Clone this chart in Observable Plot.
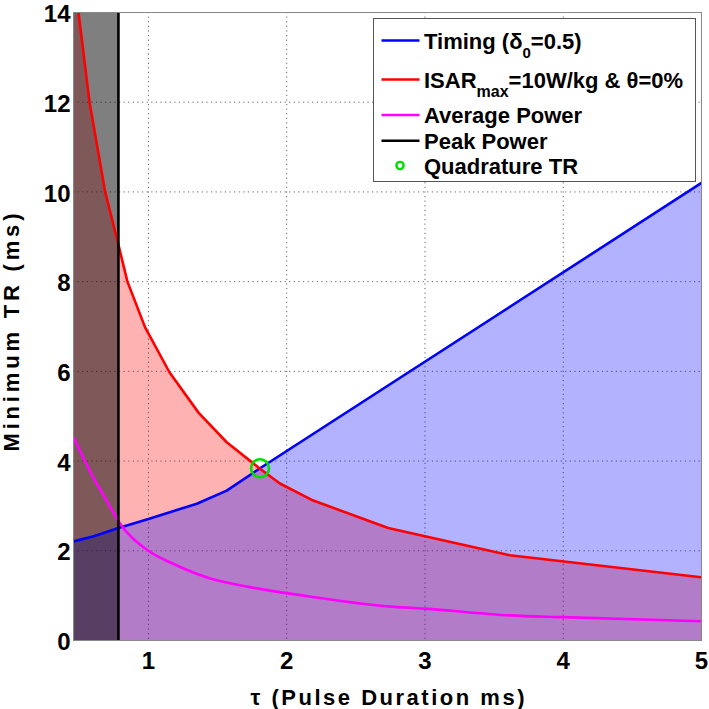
<!DOCTYPE html>
<html>
<head>
<meta charset="utf-8">
<script src="https://cdn.jsdelivr.net/npm/d3@7"></script>
<script src="https://cdn.jsdelivr.net/npm/@observablehq/plot@0.6"></script>
<style>
  html, body { margin: 0; padding: 0; background: #fff; }
  #wrap { position: relative; width: 709px; height: 709px; }
  #legend { position: absolute; left: 0; top: 0; pointer-events: none; }
</style>
</head>
<body>
<div id="wrap"></div>
<script>
// ---- data ----
const xDomain = [0.458, 5];
const yDomain = [0, 14];
const xTicks = [1, 2, 3, 4, 5];
const yTicks = [0, 2, 4, 6, 8, 10, 12, 14];
const gridXTicks = [1, 2, 3, 4];
const gridYTicks = [2, 4, 6, 8, 10, 12];

// Timing (delta0 = 0.5)
const timingTau = [0.458, 0.6, 0.783, 1.0, 1.35, 1.566, 1.807, 5.0];
const timingTR  = [2.21, 2.32, 2.51, 2.71, 3.05, 3.34, 3.84, 10.2];

// ISAR max = 10 W/kg & theta = 0%
const isarTau = [0.458, 0.494, 0.574, 0.687, 0.783, 0.848, 0.976, 1.152, 1.362, 1.566, 1.807, 1.951, 2.192, 2.734, 3.614, 5.0];
const isarTR  = [15.1, 14.0, 12.0, 10.0, 8.82, 8.0, 6.98, 5.98, 5.08, 4.42, 3.83, 3.5, 3.12, 2.51, 1.9, 1.41];

// Average power
const avgTau = [0.458, 0.6, 0.697, 0.783, 1.0, 1.179, 1.42, 1.664, 1.904, 2.19, 2.734, 3.0, 3.614, 4.0, 5.0];
const avgTR  = [4.53, 3.64, 3.12, 2.66, 2.0, 1.71, 1.41, 1.23, 1.10, 0.97, 0.76, 0.71, 0.56, 0.52, 0.43];

// Peak power limit
const peakTau = [0.783];

// Quadrature TR
const quadTau = [1.807];
const quadTR  = [3.84];

const legendLabels = ["Timing", "ISAR", "Average Power", "Peak Power", "Quadrature TR"];

// ---- tables ----
const timing = timingTau.map((x, i) => ({x, y: timingTR[i]}));
const isar = isarTau.map((x, i) => ({x, y: isarTR[i]}));
const avg = avgTau.map((x, i) => ({x, y: avgTR[i]}));
const quad = quadTau.map((x, i) => ({x, y: quadTR[i]}));

const BLUE = "#0000ff", RED = "#ff0000", MAG = "#ff00ff", GREEN = "#00dd00";

const chart = Plot.plot({
  width: 709,
  height: 709,
  marginLeft: 73,
  marginRight: 8,
  marginTop: 12,
  marginBottom: 69,
  style: {fontFamily: "'Liberation Sans', Arial, sans-serif", fontWeight: "bold", fontSize: "24px", color: "#000", background: "#fff"},
  x: {domain: xDomain, ticks: xTicks, tickFormat: d3.format("d"), tickSize: 0, tickPadding: 11,
      label: "τ (Pulse Duration ms)", labelAnchor: "center", labelArrow: "none", labelOffset: 64},
  y: {domain: yDomain, ticks: yTicks, tickFormat: d3.format("d"), tickSize: 0, tickPadding: 3,
      label: "Minimum TR (ms)", labelAnchor: "center", labelArrow: "none", labelOffset: 70},
  marks: [
    Plot.gridX(gridXTicks, {stroke: "#333", strokeOpacity: 0.75, strokeDasharray: "1.2,3.4", strokeWidth: 1}),
    Plot.gridY(gridYTicks, {stroke: "#333", strokeOpacity: 0.75, strokeDasharray: "1.2,3.4", strokeWidth: 1}),
    Plot.areaY(isar, {x: "x", y: "y", fill: RED, fillOpacity: 0.3, clip: true}),
    Plot.areaY(timing, {x: "x", y: "y", fill: BLUE, fillOpacity: 0.3, clip: true}),
    Plot.rect(peakTau, {x1: () => xDomain[0], x2: d => d, y1: () => yDomain[0], y2: () => yDomain[1], fill: "#000", fillOpacity: 0.5}),
    Plot.line(timing, {x: "x", y: "y", stroke: BLUE, strokeWidth: 2.6, clip: true}),
    Plot.line(isar, {x: "x", y: "y", stroke: RED, strokeWidth: 2.6, clip: true}),
    Plot.line(avg, {x: "x", y: "y", stroke: MAG, strokeWidth: 2.6, curve: "monotone-x", clip: true}),
    Plot.ruleX(peakTau, {stroke: "#000", strokeWidth: 2.6}),
    Plot.dot(quad, {x: "x", y: "y", r: 9, stroke: GREEN, strokeWidth: 2.6, fill: "none"}),
    Plot.frame({stroke: "#888", strokeWidth: 1})
  ]
});

document.getElementById("wrap").appendChild(chart);

// axis labels: reference font size and wider letter spacing
const svgSel = d3.select(chart);
svgSel.selectAll('g[aria-label="x-axis label"] text')
  .attr("font-size", 22).attr("textLength", 274).attr("lengthAdjust", "spacing");
const yLab = svgSel.selectAll('g[aria-label="y-axis label"]');
yLab.attr("transform", (yLab.attr("transform") || "") + " translate(0,6)");
yLab.selectAll("text").attr("font-size", 22).attr("textLength", 238).attr("lengthAdjust", "spacing");
// y tick labels sit slightly below their ticks in the reference
const yTickLab = svgSel.selectAll('g[aria-label="y-axis tick label"]');
yTickLab.attr("transform", (yTickLab.attr("transform") || "") + " translate(0,2)");

// ---- legend (inside plot area, upper right) ----
const lg = d3.select("#wrap").append("svg")
  .attr("id", "legend")
  .attr("width", 709).attr("height", 709)
  .style("font-family", "'Liberation Sans', Arial, sans-serif")
  .style("font-weight", "bold");

lg.append("rect").attr("x", 373.5).attr("y", 18.5).attr("width", 322).attr("height", 163)
  .attr("fill", "#fff").attr("stroke", "#555").attr("stroke-width", 1);

const rows = [
  {y: 40.5, kind: "line", color: BLUE},
  {y: 79.5, kind: "line", color: RED},
  {y: 115, kind: "line", color: MAG},
  {y: 140.7, kind: "line", color: "#000"},
  {y: 165.5, kind: "dot", color: GREEN}
];
rows.forEach((r, i) => {
  if (r.kind === "line") {
    lg.append("line").attr("x1", 381.5).attr("x2", 419.5).attr("y1", r.y).attr("y2", r.y)
      .attr("stroke", r.color).attr("stroke-width", 2.6);
  } else {
    lg.append("circle").attr("cx", 400).attr("cy", r.y).attr("r", 3.6)
      .attr("fill", "none").attr("stroke", r.color).attr("stroke-width", 2.4);
  }
  const t = lg.append("text").attr("x", 424).attr("y", r.y + 8).attr("font-size", 22).attr("fill", "#000");
  if (i === 0) {
    t.append("tspan").text("Timing (δ");
    t.append("tspan").attr("font-size", 15).attr("dy", 9).text("0");
    t.append("tspan").attr("dy", -9).text("=0.5)");
  } else if (i === 1) {
    t.append("tspan").text("ISAR");
    t.append("tspan").attr("font-size", 16).attr("dy", 9).text("max");
    t.append("tspan").attr("dy", -9).text("=10W/kg & θ=0%");
  } else {
    t.text(legendLabels[i]);
  }
});
</script>
</body>
</html>
